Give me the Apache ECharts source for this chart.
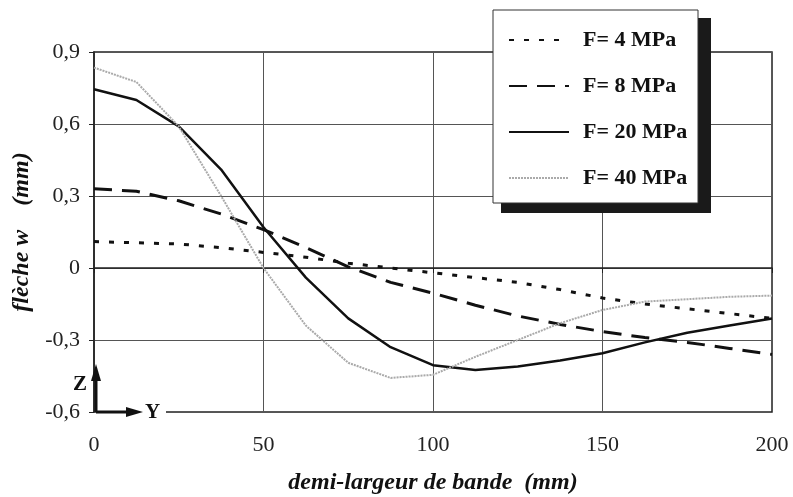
<!DOCTYPE html>
<html><head><meta charset="utf-8">
<script src="https://cdn.jsdelivr.net/npm/echarts@6/dist/echarts.min.js"></script>
<style>html,body{margin:0;padding:0;background:#fff}#c{width:793px;height:497px}</style>
</head><body><div id="c"></div>
<script>
const xs = [0,12.5,25,37.5,50,62.5,75,87.5,100,112.5,125,137.5,150,162.5,175,187.5,200];
const f4  = [0.11,0.105,0.10,0.085,0.065,0.045,0.02,0.0,-0.02,-0.04,-0.06,-0.09,-0.125,-0.15,-0.17,-0.19,-0.21];
const f8  = [0.33,0.32,0.28,0.225,0.16,0.085,0.005,-0.06,-0.105,-0.155,-0.20,-0.235,-0.265,-0.29,-0.31,-0.335,-0.36];
const f20 = [0.745,0.70,0.59,0.41,0.17,-0.04,-0.21,-0.33,-0.405,-0.425,-0.41,-0.385,-0.355,-0.31,-0.27,-0.24,-0.21];
const f40 = [0.835,0.775,0.59,0.30,0.0,-0.24,-0.395,-0.458,-0.445,-0.37,-0.30,-0.23,-0.175,-0.14,-0.13,-0.12,-0.115];
const names = ['F= 4 MPa','F= 8 MPa','F= 20 MPa','F= 40 MPa'];
const xTicks = {min:0,max:200,interval:50};
const yTicks = {min:-0.6,max:0.9,interval:0.3};

const pair = arr => xs.map((x,i)=>[x,arr[i]]);
const serif = '"Liberation Serif","DejaVu Serif",serif';
const chart = echarts.init(document.getElementById('c'));
chart.setOption({
  animation:false,
  backgroundColor:'#fff',
  grid:{left:94,right:21,top:52,bottom:85,show:true,borderColor:'#222',borderWidth:1.5,
    containLabel:false,outerBoundsMode:'none'},
  xAxis:{type:'value',min:xTicks.min,max:xTicks.max,interval:xTicks.interval,
    name:'demi-largeur de bande  (mm)',nameLocation:'middle',nameGap:59,
    nameTextStyle:{fontFamily:serif,fontSize:24,fontWeight:'bold',fontStyle:'italic',color:'#111'},
    axisLine:{lineStyle:{color:'#222',width:1.5}},
    axisTick:{show:true,length:5,lineStyle:{color:'#222'}},
    axisLabel:{fontFamily:serif,fontSize:22,color:'#222',margin:22},
    splitLine:{show:true,lineStyle:{color:'#555',width:1}}},
  yAxis:{type:'value',min:yTicks.min,max:yTicks.max,interval:yTicks.interval,
    name:'flèche w    (mm)',nameLocation:'middle',nameGap:57,nameRotate:90,
    nameTextStyle:{fontFamily:serif,fontSize:24,fontWeight:'bold',fontStyle:'italic',color:'#111'},
    axisLine:{show:true,lineStyle:{color:'#222',width:1.5}},
    axisTick:{show:true,length:5,lineStyle:{color:'#222'}},
    axisLabel:{fontFamily:serif,fontSize:22,color:'#222',margin:14,
      formatter:v=>String(Math.round(v*10)/10).replace('.',',')},
    splitLine:{show:true,lineStyle:{color:'#555',width:1}}},
  legend:{orient:'vertical',left:503,top:24,itemWidth:60,itemHeight:14,itemGap:24,
    data:names,z:20,itemStyle:{opacity:0},
    textStyle:{fontFamily:serif,fontSize:22,fontWeight:'bold',color:'#111',padding:[0,0,0,9]}},
  graphic:[
    {type:'rect',shape:{x:501,y:18,width:210,height:195},style:{fill:'#1a1a1a'},z:10},
    {type:'rect',shape:{x:493,y:10,width:205,height:193},style:{fill:'#fff',stroke:'#333',lineWidth:1},z:11},
    {type:'rect',shape:{x:97,y:406,width:69,height:12},style:{fill:'#fff'},z:10},
    {type:'polyline',shape:{points:[[96,412],[96,378]]},style:{stroke:'#111',lineWidth:3},z:12},
    {type:'polygon',shape:{points:[[91,381],[96,364],[101,381]]},style:{fill:'#111'},z:12},
    {type:'polyline',shape:{points:[[96,412],[128,412]]},style:{stroke:'#111',lineWidth:3},z:12},
    {type:'polygon',shape:{points:[[126,407],[143,412],[126,417]]},style:{fill:'#111'},z:12},
    {type:'text',left:145,top:402,style:{text:'Y',font:'bold 21px '+serif,fill:'#111'},z:12},
    {type:'text',left:73,top:374,style:{text:'Z',font:'bold 21px '+serif,fill:'#111'},z:12}
  ],
  series:[
    {name:names[0],type:'line',data:pair(f4),symbol:'none',z:5,
      lineStyle:{color:'#111',width:3,type:[5,10]}},
    {name:names[1],type:'line',data:pair(f8),symbol:'none',z:5,
      lineStyle:{color:'#111',width:3,type:[18,10]}},
    {name:names[2],type:'line',data:pair(f20),symbol:'none',z:5,
      lineStyle:{color:'#111',width:2.5,type:'solid'}},
    {name:names[3],type:'line',data:pair(f40),symbol:'none',z:5,
      lineStyle:{color:'#aaa',width:2,type:[2,1]}}
  ]
});
</script></body></html>
